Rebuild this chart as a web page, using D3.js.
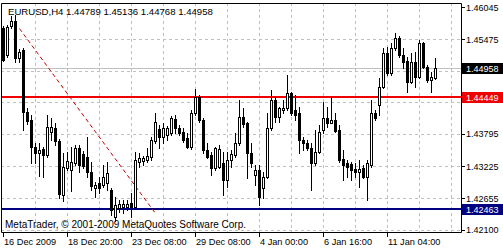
<!DOCTYPE html>
<html>
<head>
<meta charset="utf-8">
<title>EURUSD H4</title>
<script src="https://cdn.jsdelivr.net/npm/d3@7"></script>
<style>
  html, body { margin: 0; padding: 0; background: #fff; }
  svg { display: block; font-family: "Liberation Sans", Arial, sans-serif; }
</style>
</head>
<body>
<svg id="chart" width="503" height="250"></svg>
<script>
// EURUSD H4 bars, oldest first
const opens = [1.45673,1.45194,1.45708,1.45797,1.45141,1.45282,1.44183,1.44041,1.43563,1.43456,
  1.43527,1.43421,1.43829,1.43900,1.43669,1.42712,1.43190,1.43155,1.43279,1.43545,
  1.43439,1.43385,1.43119,1.42836,1.42924,1.42889,1.42924,1.42800,1.42322,1.42481,
  1.42499,1.42499,1.42570,1.42499,1.43297,1.43314,1.43332,1.43385,1.43669,1.43882,
  1.43740,1.43775,1.43811,1.44059,1.43900,1.43829,1.43722,1.43563,1.44166,1.44449,
  1.44041,1.43509,1.43421,1.43190,1.43208,1.43279,1.42978,1.43332,1.43421,1.43634,
  1.44095,1.43988,1.43456,1.43066,1.43155,1.42836,1.43031,1.43900,1.44396,1.44095,
  1.44219,1.44254,1.44520,1.44219,1.44166,1.43687,1.43634,1.43545,1.43279,1.43474,
  1.43864,1.44077,1.43988,1.44041,1.43864,1.43350,1.43279,1.43261,1.43173,1.43119,
  1.43190,1.43031,1.43244,1.44166,1.44307,1.44626,1.45229,1.44875,1.45318,1.45495,
  1.45194,1.45087,1.44715,1.45070,1.44804,1.45407,1.44981,1.44751,1.44789];
const highs = [1.45708,1.45726,1.45885,1.45903,1.45300,1.45318,1.44254,1.44130,1.43634,1.43634,
  1.43563,1.44130,1.44077,1.43988,1.43705,1.43456,1.43474,1.43563,1.43598,1.43598,
  1.43492,1.43740,1.43297,1.42942,1.43031,1.43244,1.43297,1.42836,1.42676,1.42623,
  1.42623,1.42623,1.42747,1.43474,1.43456,1.43403,1.43545,1.43740,1.44166,1.43953,
  1.43988,1.43935,1.44112,1.44130,1.43953,1.43900,1.43811,1.44219,1.44591,1.44485,
  1.44077,1.43634,1.43474,1.43563,1.43598,1.43474,1.43474,1.43509,1.43811,1.44396,
  1.44254,1.44006,1.43634,1.43244,1.43244,1.43119,1.44166,1.44573,1.44449,1.44272,
  1.44396,1.44839,1.44538,1.44485,1.44272,1.43740,1.43687,1.43634,1.43864,1.43953,
  1.44361,1.44272,1.44449,1.44166,1.43953,1.43509,1.43332,1.43297,1.43279,1.43332,
  1.43244,1.43332,1.44396,1.44219,1.44786,1.45318,1.45336,1.45407,1.45584,1.45531,
  1.45318,1.45158,1.45229,1.45247,1.45460,1.45424,1.45017,1.44892,1.45136];
const lows = [1.45087,1.45158,1.45673,1.45070,1.45070,1.43864,1.43970,1.43279,1.43279,1.43049,
  1.43031,1.43385,1.43687,1.43598,1.42658,1.42605,1.43155,1.42782,1.43244,1.43119,
  1.43190,1.43031,1.42800,1.42676,1.42747,1.42853,1.42800,1.42357,1.42251,1.42410,
  1.42393,1.42446,1.42322,1.42463,1.43208,1.43244,1.43297,1.43332,1.43634,1.43545,
  1.43634,1.43687,1.43775,1.43811,1.43775,1.43651,1.43545,1.43527,1.44130,1.44006,
  1.43456,1.43368,1.43066,1.43155,1.43190,1.42712,1.42853,1.43208,1.43385,1.43598,
  1.43917,1.43013,1.43208,1.42889,1.42534,1.42658,1.43013,1.43864,1.44006,1.44006,
  1.44166,1.44219,1.44130,1.44041,1.43456,1.43509,1.43509,1.42800,1.43244,1.43456,
  1.43811,1.43917,1.43988,1.43829,1.43297,1.42978,1.43031,1.42978,1.43031,1.42853,
  1.43013,1.42623,1.43208,1.44041,1.44130,1.44609,1.44839,1.44839,1.45282,1.45158,
  1.44963,1.44538,1.44697,1.44626,1.44786,1.44963,1.44715,1.44538,1.44768];
const closes = [1.45105,1.45690,1.45797,1.45141,1.45247,1.44183,1.44024,1.43563,1.43456,1.43509,
  1.43421,1.43917,1.43917,1.43669,1.42729,1.43208,1.43314,1.43297,1.43545,1.43244,
  1.43226,1.43119,1.42871,1.42889,1.42836,1.43031,1.43102,1.42446,1.42534,1.42552,
  1.42552,1.42552,1.42499,1.43332,1.43368,1.43368,1.43403,1.43687,1.44006,1.43740,
  1.43900,1.43900,1.44077,1.43900,1.43811,1.43687,1.43563,1.44166,1.44449,1.44041,
  1.43509,1.43385,1.43190,1.43545,1.43527,1.42978,1.43332,1.43439,1.43634,1.44095,
  1.43970,1.43456,1.43279,1.43155,1.42676,1.43031,1.43900,1.44396,1.44095,1.44254,
  1.44254,1.44520,1.44166,1.44130,1.43687,1.43634,1.43545,1.43279,1.43474,1.43829,
  1.44077,1.43988,1.44041,1.43846,1.43332,1.43244,1.43208,1.43155,1.43119,1.43173,
  1.43031,1.43279,1.44166,1.44077,1.44626,1.45229,1.44875,1.45318,1.45495,1.45194,
  1.45070,1.44715,1.45070,1.44804,1.45407,1.44981,1.44751,1.44804,1.44958];

const timeTickBars = [0, 16, 32, 48, 64, 80, 96];
const timeLabels = ["16 Dec 2009", "18 Dec 20:00", "23 Dec 08:00", "29 Dec 08:00",
  "4 Jan 00:00", "6 Jan 16:00", "11 Jan 04:00"];
const priceTicks = [1.46045, 1.45475, 1.44915, 1.44365, 1.43795, 1.43225, 1.42655, 1.42100];
// labels of 1.44915 and 1.44365 sit under the price boxes
const priceLabels = ["1.46045", "1.45475", "", "", "1.43795", "1.43225", "1.42655", "1.42100"];
const gridBars = [8, 16, 24, 32, 40, 48, 56, 64, 72, 80, 88, 96, 104, 112];
const redLevel = 1.44449;
const blueLevel = 1.42463;
const trendBars = [4, 38];
const trendPrices = [1.45662, 1.42384];

const svg = d3.select("#chart");
const plotL = 1, plotR = 461, plotT = 3, plotB = 232;
const n = closes.length;

const x = d3.scaleLinear().domain([0, 108]).range([3, 435]);
const y = d3.scaleLinear().domain([1.42100, 1.46045]).range([229.5, 7]);
const py = (p) => Math.round(y(p)) + 0.5;

// grid
const grid = svg.append("g").attr("stroke", "#c0c0c0").attr("stroke-dasharray", "3,3");
grid.selectAll(".hg").data(priceTicks.slice(1)).join("line")
  .attr("x1", plotL).attr("x2", plotR)
  .attr("y1", py).attr("y2", py);
grid.selectAll(".vg").data(gridBars).join("line")
  .attr("x1", (d) => x(d) + 0.5).attr("x2", (d) => x(d) + 0.5)
  .attr("y1", plotT).attr("y2", plotB);

// bid line
const last = n - 1;
svg.append("line").attr("x1", plotL).attr("x2", plotR)
  .attr("y1", py(closes[last])).attr("y2", py(closes[last]))
  .attr("stroke", "#c0c0c0");

// horizontal levels
svg.append("line").attr("x1", plotL).attr("x2", plotR)
  .attr("y1", Math.round(y(redLevel))).attr("y2", Math.round(y(redLevel)))
  .attr("stroke", "#f00000").attr("stroke-width", 2);
svg.append("line").attr("x1", plotL).attr("x2", plotR)
  .attr("y1", Math.round(y(blueLevel))).attr("y2", Math.round(y(blueLevel)))
  .attr("stroke", "#000080").attr("stroke-width", 2);

// trend line
svg.append("line")
  .attr("x1", x(trendBars[0]) + 0.5).attr("y1", y(trendPrices[0]))
  .attr("x2", x(trendBars[1]) + 0.5).attr("y2", y(trendPrices[1]))
  .attr("stroke", "#c00000").attr("stroke-dasharray", "4,3");

// candles
const idx = d3.range(n);
const candles = svg.append("g");
candles.selectAll(".wick").data(idx).join("line")
  .attr("x1", (i) => x(i) + 0.5).attr("x2", (i) => x(i) + 0.5)
  .attr("y1", (i) => Math.round(y(highs[i]))).attr("y2", (i) => Math.round(y(lows[i])) + 1)
  .attr("stroke", "#000");
candles.selectAll(".body").data(idx).join("rect")
  .each(function (i) {
    const t = Math.round(y(Math.max(opens[i], closes[i])));
    const b = Math.round(y(Math.min(opens[i], closes[i])));
    const r = d3.select(this);
    if (closes[i] >= opens[i]) {
      r.attr("x", x(i) - 0.5).attr("y", t + 0.5).attr("width", 2)
        .attr("height", Math.max(b - t, 1))
        .attr("fill", "#fff").attr("stroke", "#000");
    } else {
      r.attr("x", x(i) - 1).attr("y", t).attr("width", 3)
        .attr("height", Math.max(b - t, 1) + 1).attr("fill", "#000");
    }
  });

// frame
svg.append("path")
  .attr("d", `M${plotL + 0.5},${plotT + 0.5}H${plotR + 0.5}V${plotB + 0.5}H${plotL + 0.5}Z`)
  .attr("fill", "none").attr("stroke", "#000");

// price axis
svg.selectAll(".ptick").data(priceTicks).join("line")
  .attr("x1", plotR).attr("x2", plotR + 4)
  .attr("y1", py).attr("y2", py).attr("stroke", "#000");
svg.selectAll(".plabel").data(priceTicks.filter((d, i) => priceLabels[i])).join("text")
  .attr("x", 466).attr("y", (d) => y(d) + 3.5)
  .attr("font-size", "9px").attr("fill", "#000")
  .text((d) => priceLabels[priceTicks.indexOf(d)]);

const boxes = [
  { p: closes[last], bg: "#000" },
  { p: redLevel, bg: "#f00000" },
  { p: blueLevel, bg: "#000080" }
];
const bx = svg.selectAll(".box").data(boxes).join("g");
bx.append("rect").attr("x", plotR + 1).attr("y", (d) => Math.round(y(d.p)) - 5)
  .attr("width", 503 - plotR - 1).attr("height", 11).attr("fill", (d) => d.bg);
bx.append("text").attr("x", 466).attr("y", (d) => Math.round(y(d.p)) + 3.5)
  .attr("font-size", "9px").attr("fill", "#fff")
  .text((d) => d.p.toFixed(5));

// time axis
svg.selectAll(".ttick").data(timeTickBars).join("line")
  .attr("x1", (d) => x(d) + 0.5).attr("x2", (d) => x(d) + 0.5)
  .attr("y1", plotB).attr("y2", plotB + 5).attr("stroke", "#000");
svg.selectAll(".tlabel").data(timeTickBars).join("text")
  .attr("x", (d) => x(d) + 1).attr("y", 245)
  .attr("font-size", "9.2px").attr("fill", "#000")
  .text((d, i) => timeLabels[i]);

// texts
svg.append("text").attr("x", 8).attr("y", 15).attr("font-size", "9.6px")
  .text(`EURUSD,H4 ${opens[last].toFixed(5)} ${highs[last].toFixed(5)} ${lows[last].toFixed(5)} ${closes[last].toFixed(5)}`);
svg.append("text").attr("x", 5).attr("y", 228).attr("font-size", "10px")
  .text("MetaTrader, © 2001-2009 MetaQuotes Software Corp.");
</script>
</body>
</html>
